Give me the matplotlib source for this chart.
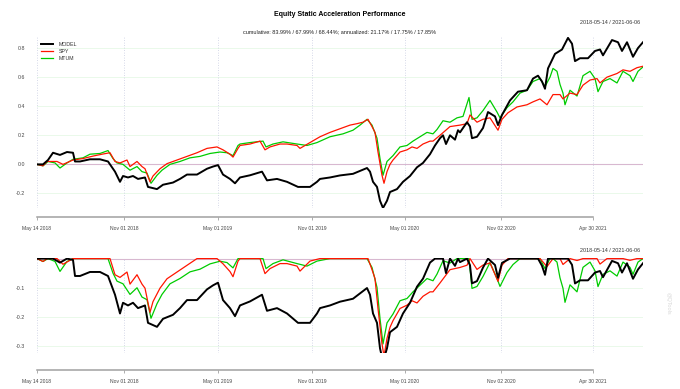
import numpy as np
import matplotlib
matplotlib.use("Agg")
import matplotlib.pyplot as plt

plt.rcParams['font.family'] = ['Liberation Sans', 'DejaVu Sans']

# positions are observation index along the series (0 = 2018-05-14)
model_x = [0, 6, 11, 16, 23, 30, 36, 38, 43, 53, 63, 71, 75, 78, 83, 86, 91, 96, 101, 108, 111,
           120, 126, 136, 143, 150, 160, 170, 176, 181, 186, 193, 198, 203, 213, 225, 230, 240,
           250, 261, 273, 280, 283, 293, 303, 316, 330, 333, 336, 340, 343, 346, 350, 353, 360,
           366, 373, 380, 386, 393, 398, 403, 406, 409, 413, 418, 421, 423, 430, 433, 435, 440,
           446, 451, 458, 461, 465, 473, 481, 490, 496, 501, 505, 508, 511, 518, 525, 531, 535,
           538, 543, 551, 558, 563, 566, 575, 581, 585, 590, 596, 601, 606]
model_y = [0.0, 0.0, 0.03, 0.08, 0.065, 0.085, 0.08, 0.02, 0.02, 0.035, 0.035, 0.02, -0.02, -0.05,
           -0.12, -0.08, -0.09, -0.08, -0.1, -0.09, -0.155, -0.17, -0.14, -0.125, -0.1, -0.07,
           -0.07, -0.03, -0.015, -0.005, -0.07, -0.1, -0.13, -0.09, -0.075, -0.05, -0.11, -0.1,
           -0.12, -0.155, -0.155, -0.12, -0.1, -0.09, -0.076, -0.065, -0.025, -0.05, -0.12,
           -0.155, -0.25, -0.30, -0.25, -0.19, -0.17, -0.12, -0.08, -0.02, 0.01, 0.07, 0.13,
           0.18, 0.2, 0.14, 0.2, 0.17, 0.235, 0.22, 0.29, 0.26, 0.18, 0.19, 0.25, 0.36, 0.33,
           0.27, 0.34, 0.44, 0.5, 0.51, 0.59, 0.61, 0.57, 0.52, 0.66, 0.76, 0.79, 0.87, 0.83,
           0.71, 0.73, 0.73, 0.78, 0.79, 0.75, 0.855, 0.84, 0.78, 0.84, 0.74, 0.8, 0.84]

spy_x = [0, 6, 10, 20, 26, 36, 46, 56, 65, 73, 78, 83, 90, 93, 100, 105, 108, 113, 116, 123, 130,
         140, 150, 160, 170, 180, 186, 193, 196, 201, 203, 213, 223, 228, 233, 243, 250, 260, 263,
         273, 283, 293, 303, 313, 320, 326, 331, 335, 338, 341, 345, 347, 350, 353, 356, 363, 370,
         375, 380, 386, 393, 396, 403, 413, 423, 430, 433, 440, 446, 453, 461, 465, 471, 480, 490,
         496, 503, 510, 516, 523, 526, 533, 540, 546, 553, 560, 563, 570, 580, 586, 593, 600, 606]
spy_y = [0.0, -0.01, 0.02, 0.02, 0.0, 0.03, 0.04, 0.057, 0.07, 0.08, 0.02, 0.01, 0.03, -0.015,
         0.02, -0.015, -0.03, -0.12, -0.08, -0.03, 0.005, 0.03, 0.055, 0.08, 0.11, 0.12, 0.1,
         0.07, 0.05, 0.11, 0.13, 0.14, 0.16, 0.1, 0.12, 0.14, 0.14, 0.13, 0.11, 0.15, 0.19, 0.22,
         0.245, 0.27, 0.28, 0.29, 0.31, 0.26, 0.22, 0.085, -0.075, -0.13, -0.05, 0.0, 0.03, 0.085,
         0.1, 0.12, 0.11, 0.14, 0.16, 0.16, 0.2, 0.26, 0.27, 0.28, 0.34, 0.29, 0.31, 0.32, 0.235,
         0.31, 0.355, 0.395, 0.41, 0.43, 0.45, 0.41, 0.48, 0.48, 0.45, 0.49, 0.48, 0.545, 0.58,
         0.59, 0.56, 0.6, 0.625, 0.65, 0.64, 0.665, 0.675]

mtum_x = [0, 6, 11, 18, 23, 30, 36, 46, 53, 63, 71, 76, 80, 86, 93, 100, 105, 110, 114, 120, 125,
          133, 143, 153, 163, 173, 183, 190, 196, 201, 203, 213, 226, 229, 236, 246, 260, 270, 280,
          293, 306, 316, 323, 330, 335, 340, 343, 346, 350, 356, 363, 370, 376, 383, 390, 396, 400,
          406, 413, 420, 426, 432, 435, 440, 446, 453, 460, 463, 470, 476, 483, 490, 496, 503, 508,
          513, 516, 520, 523, 526, 528, 533, 540, 546, 553, 558, 561, 566, 573, 580, 586, 593, 596,
          601, 606]
mtum_y = [0.0, -0.01, 0.02, 0.01, -0.025, 0.01, 0.035, 0.045, 0.07, 0.075, 0.095, 0.04, 0.01, 0.0,
          -0.04, -0.015, -0.05, -0.06, -0.13, -0.075, -0.04, 0.0, 0.02, 0.045, 0.055, 0.075,
          0.085, 0.08, 0.06, 0.13, 0.14, 0.15, 0.16, 0.12, 0.14, 0.155, 0.14, 0.13, 0.15, 0.19,
          0.21, 0.235, 0.27, 0.31, 0.27, 0.18, 0.04, -0.075, 0.02, 0.06, 0.12, 0.13, 0.16, 0.19,
          0.22, 0.21, 0.24, 0.3, 0.29, 0.32, 0.33, 0.46, 0.31, 0.32, 0.37, 0.44, 0.36, 0.32, 0.39,
          0.43, 0.49, 0.51, 0.57, 0.59, 0.535, 0.6, 0.66, 0.64, 0.55, 0.49, 0.41, 0.51, 0.47,
          0.61, 0.64, 0.59, 0.5, 0.57, 0.59, 0.56, 0.64, 0.61, 0.57, 0.64, 0.67]

tick_pos = [0, 87, 181, 275, 368, 464, 556]
tick_labels = ["May 14 2018", "Nov 01 2018", "May 01 2019", "Nov 01 2019",
               "May 01 2020", "Nov 02 2020", "Apr 30 2021"]

series = [("MODEL", model_x, model_y, "black", 1.4),
          ("SPY", spy_x, spy_y, "#ff1500", 0.9),
          ("MTUM", mtum_x, mtum_y, "#00cc00", 0.9)]

W, H = 680, 389
PT = 72 / 100  # points per pixel at dpi 100
fig = plt.figure(figsize=(W / 100, H / 100), dpi=100)

def px_axes(x0, y0, x1, y1):
    return fig.add_axes([x0 / W, 1 - y1 / H, (x1 - x0) / W, (y1 - y0) / H])

ax1 = px_axes(37, 37, 643, 208)
ax2 = px_axes(37, 258, 643, 353)

def style(ax, yticks, ylabels, offset_px):
    for s in ["top", "right", "left"]:
        ax.spines[s].set_visible(False)
    ax.spines["bottom"].set_position(("outward", offset_px * PT))
    ax.spines["bottom"].set_bounds(tick_pos[0], tick_pos[-1])
    ax.spines["bottom"].set_color("#a0a0a0")
    ax.spines["bottom"].set_linewidth(1.1)
    ax.set_xticks(tick_pos)
    ax.set_xticklabels(tick_labels)
    ax.tick_params(axis="x", length=3 * PT, width=0.6, color="#a0a0a0", pad=6 * PT,
                   labelsize=3.6, labelcolor="#444444")
    ax.set_yticks(yticks)
    ax.set_yticklabels(ylabels)
    ax.tick_params(axis="y", length=0, pad=12 * PT, labelsize=3.8, labelcolor="#444444")
    for yt in yticks:
        ax.axhline(yt, color="#e6f8e6", lw=0.6, zorder=0)
    for xt in tick_pos:
        ax.axvline(xt, color="#c8cce0", lw=0.6, ls=(0, (1, 2)), zorder=0)
    ax.set_xlim(0, 606)

ax1.axhline(0, color="#d8b8d0", lw=0.8, zorder=1)
for name, xs, ys, col, lw in series[::-1]:
    ax1.plot(xs, ys, color=col, lw=lw, label=name, zorder=3 if name == "MODEL" else 2)
ax1.set_ylim(-0.30, 0.876)
style(ax1, [-0.2, 0.0, 0.2, 0.4, 0.6, 0.8], ["-0.2", "0.0", "0.2", "0.4", "0.6", "0.8"], 9)

handles, labels = ax1.get_legend_handles_labels()
leg = ax1.legend(handles[::-1], labels[::-1], loc="upper left", frameon=False, fontsize=3.8,
                 handlelength=2.4, handletextpad=1.0, labelspacing=0.45,
                 bbox_to_anchor=(0.0, 0.995), borderaxespad=0.3)
for t in leg.get_texts():
    t.set_color("#333333")

ax2.axhline(0, color="#d8b8d0", lw=0.8, zorder=1)
for name, xs, ys, col, lw in series[::-1]:
    wealth = 1 + np.array(ys)
    dd = wealth / np.maximum.accumulate(wealth) - 1
    ax2.plot(xs, dd, color=col, lw=lw, zorder=3 if name == "MODEL" else 2)
ax2.set_ylim(-0.325, 0.002)
style(ax2, [-0.1, -0.2, -0.3], ["-0.1", "-0.2", "-0.3"], 17)

fig.text(340 / W, 1 - 15 / H, "Equity Static Acceleration Performance", ha="center",
         va="center", fontsize=5, fontweight="bold")
fig.text(340 / W, 1 - 32 / H,
         "cumulative: 83.99% / 67.99% / 68.44%; annualized: 21.17% / 17.75% / 17.85%",
         ha="center", va="center", fontsize=4.0, color="#222222")
fig.text(640 / W, 1 - 22 / H, "2018-05-14 / 2021-06-06", ha="right", va="center",
         fontsize=3.9, color="#333333")
fig.text(640 / W, 1 - 250 / H, "2018-05-14 / 2021-06-06", ha="right", va="center",
         fontsize=3.9, color="#333333")
fig.text(668 / W, 1 - 303 / H, "@QTools", rotation=270, ha="center", va="center",
         fontsize=4, color="#d8d8d8")

fig.savefig("out.png", dpi=100)
